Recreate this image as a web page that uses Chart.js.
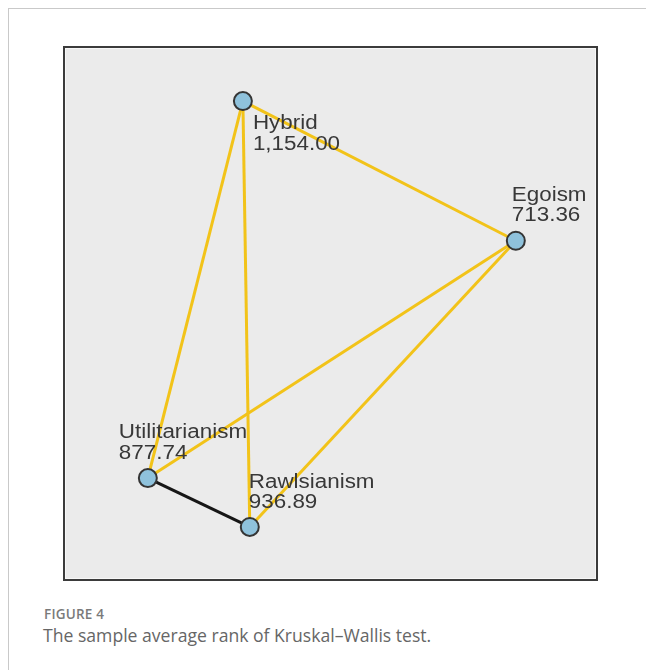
<!DOCTYPE html>
<html lang="en">
<head>
  <meta charset="UTF-8">
  <title>Kruskal-Wallis average rank</title>
  <script src="https://cdn.jsdelivr.net/npm/chart.js"></script>
  <style>
    html, body {
      margin: 0;
      padding: 0;
      background: #fff;
      width: 646px;
      height: 670px;
      overflow: hidden;
    }
    #frame {
      position: absolute;
      left: 8px;
      top: 8px;
      width: 700px;
      height: 700px;
      border: 1px solid #c9c9c9;
    }
    #box {
      position: absolute;
      left: 63px;
      top: 46px;
      width: 535px;
      height: 535px;
      box-sizing: border-box;
      border: 2px solid #3b3b3b;
      background: #ebebeb;
      box-shadow: inset 0 0 0 1px #f7f7f7;
    }
    #box canvas {
      position: absolute;
      left: 0;
      top: 0;
    }
    .fig {
      position: absolute;
      left: 44px;
      top: 605px;
      font-family: "Open Sans", sans-serif;
      font-size: 13.5px;
      font-weight: 600;
      color: #7a7a7a;
      letter-spacing: 0.2px;
    }
    .cap {
      position: absolute;
      left: 43px;
      top: 623px;
      font-family: "Open Sans", sans-serif;
      font-size: 17.6px;
      color: #666;
      white-space: nowrap;
    }
  </style>
</head>
<body>
  <div id="frame"></div>
  <div id="box"><canvas id="net" width="531" height="531"></canvas></div>
  <div class="fig">FIGURE 4</div>
  <div class="cap">The sample average rank of Kruskal–Wallis test.</div>

  <script>
    // groups and their mean ranks
    const groups = ["Hybrid", "Egoism", "Utilitarianism", "Rawlsianism"];
    const meanRank = [1154.00, 713.36, 877.74, 936.89];
    // node layout (0-100 plot units)
    const nodeX = [33.5, 84.9, 15.6, 34.8];
    const nodeY = [90.0, 63.7, 19.0, 9.8];
    // pairwise comparisons: [from, to, significant]
    const pairs = [
      [0, 1, true],
      [0, 2, true],
      [0, 3, true],
      [1, 2, true],
      [1, 3, true],
      [2, 3, false]
    ];

    // label placement relative to each node, in pixels
    const labelOffset = [
      { dx: 10, dy: 28 },
      { dx: -4, dy: -40 },
      { dx: -29, dy: -40 },
      { dx: -1, dy: -39 }
    ];

    const nodes = groups.map((g, i) => ({ x: nodeX[i], y: nodeY[i] }));

    const edgeSets = pairs.map(([a, b, sig]) => ({
      data: [nodes[a], nodes[b]],
      showLine: true,
      borderColor: sig ? "#f2c319" : "#161616",
      borderWidth: 3,
      pointRadius: 0,
      order: 2,
      clip: false
    }));

    const fmt = v => v.toLocaleString("en-US", { minimumFractionDigits: 2, maximumFractionDigits: 2 });

    const nodeLabels = {
      id: "nodeLabels",
      afterDatasetsDraw(chart) {
        const ctx = chart.ctx;
        const meta = chart.getDatasetMeta(chart.data.datasets.length - 1);
        ctx.save();
        ctx.fillStyle = "#383838";
        ctx.font = "20px 'Liberation Sans', Arial, sans-serif";
        ctx.textBaseline = "alphabetic";
        meta.data.forEach((pt, i) => {
          const off = labelOffset[i];
          ctx.save();
          ctx.translate(pt.x + off.dx, pt.y + off.dy);
          ctx.scale(1.12, 1);
          ctx.fillText(groups[i], 0, 0);
          ctx.fillText(fmt(meanRank[i]), 0, 20.5);
          ctx.restore();
        });
        ctx.restore();
      }
    };

    new Chart(document.getElementById("net").getContext("2d"), {
      type: "scatter",
      data: {
        datasets: [
          ...edgeSets,
          {
            data: nodes,
            pointRadius: 9,
            pointBackgroundColor: "#8fc2dc",
            pointBorderColor: "#353535",
            pointBorderWidth: 2,
            order: 1,
            clip: false
          }
        ]
      },
      options: {
        responsive: false,
        animation: false,
        events: [],
        layout: { padding: 0, autoPadding: false },
        scales: {
          x: { type: "linear", min: 0, max: 100, display: false },
          y: { type: "linear", min: 0, max: 100, display: false }
        },
        plugins: {
          legend: { display: false },
          tooltip: { enabled: false }
        }
      },
      plugins: [nodeLabels]
    });
  </script>
</body>
</html>
